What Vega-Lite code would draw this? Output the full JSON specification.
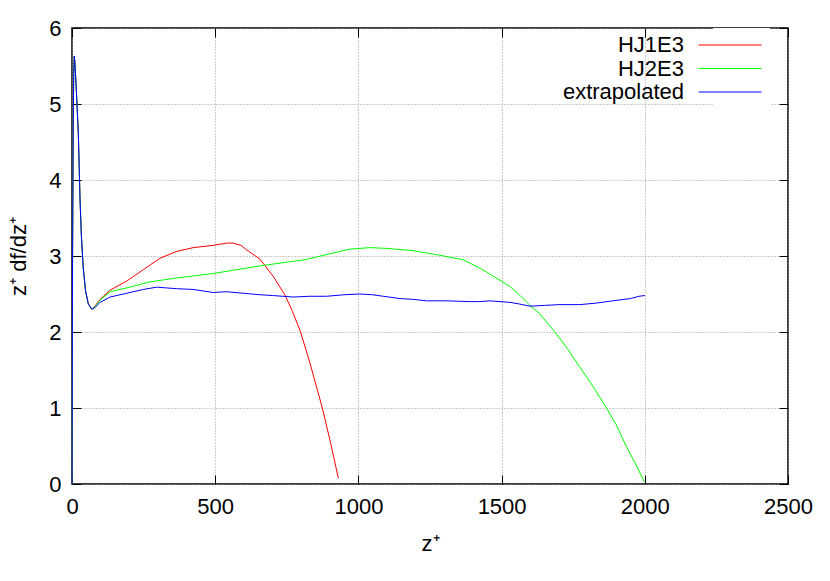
{
  "$schema": "https://vega.github.io/schema/vega-lite/v6.json",
  "width": 716,
  "height": 456,
  "autosize": "none",
  "padding": {"left": 72, "top": 28, "right": 42, "bottom": 97},
  "background": "white",
  "config": {
    "font": "Liberation Sans",
    "view": {"stroke": "black", "strokeWidth": 1.5},
    "axis": {
      "labelFontSize": 22,
      "labelColor": "black",
      "labelFont": "Liberation Sans",
      "titleFont": "Liberation Sans",
      "titleFontSize": 22,
      "titleFontWeight": "normal",
      "titleColor": "black",
      "tickColor": "black",
      "tickWidth": 1,
      "labelFlush": false,
      "labelOverlap": false,
      "format": "d",
      "gridColor": "#999999",
      "gridDash": [1, 2],
      "gridWidth": 1
    }
  },
  "data": {
    "values": [
      {"s": "HJ1E3", "z": 0, "v": 0}, {"s": "HJ1E3", "z": 2, "v": 3.0}, {"s": "HJ1E3", "z": 4, "v": 4.6}, {"s": "HJ1E3", "z": 6, "v": 5.4}, {"s": "HJ1E3", "z": 8, "v": 5.63}, {"s": "HJ1E3", "z": 10, "v": 5.55}, {"s": "HJ1E3", "z": 14, "v": 5.27}, {"s": "HJ1E3", "z": 18, "v": 4.95}, {"s": "HJ1E3", "z": 22, "v": 4.62}, {"s": "HJ1E3", "z": 25, "v": 4.2}, {"s": "HJ1E3", "z": 28, "v": 3.74}, {"s": "HJ1E3", "z": 33, "v": 3.25}, {"s": "HJ1E3", "z": 39, "v": 2.86}, {"s": "HJ1E3", "z": 47, "v": 2.55}, {"s": "HJ1E3", "z": 57, "v": 2.37}, {"s": "HJ1E3", "z": 69, "v": 2.3},
      {"s": "HJ1E3", "z": 80, "v": 2.34}, {"s": "HJ1E3", "z": 98, "v": 2.43}, {"s": "HJ1E3", "z": 133, "v": 2.55}, {"s": "HJ1E3", "z": 191, "v": 2.67}, {"s": "HJ1E3", "z": 249, "v": 2.82}, {"s": "HJ1E3", "z": 307, "v": 2.97}, {"s": "HJ1E3", "z": 365, "v": 3.06}, {"s": "HJ1E3", "z": 423, "v": 3.11}, {"s": "HJ1E3", "z": 493, "v": 3.14}, {"s": "HJ1E3", "z": 540, "v": 3.17}, {"s": "HJ1E3", "z": 563, "v": 3.17}, {"s": "HJ1E3", "z": 590, "v": 3.14}, {"s": "HJ1E3", "z": 610, "v": 3.08}, {"s": "HJ1E3", "z": 656, "v": 2.96}, {"s": "HJ1E3", "z": 703, "v": 2.73}, {"s": "HJ1E3", "z": 743, "v": 2.49}, {"s": "HJ1E3", "z": 770, "v": 2.27}, {"s": "HJ1E3", "z": 798, "v": 2.0}, {"s": "HJ1E3", "z": 831, "v": 1.59}, {"s": "HJ1E3", "z": 874, "v": 1.0}, {"s": "HJ1E3", "z": 903, "v": 0.54}, {"s": "HJ1E3", "z": 930, "v": 0.075},
      {"s": "HJ2E3", "z": 0, "v": 0}, {"s": "HJ2E3", "z": 2, "v": 3.0}, {"s": "HJ2E3", "z": 4, "v": 4.6}, {"s": "HJ2E3", "z": 6, "v": 5.4}, {"s": "HJ2E3", "z": 8, "v": 5.63}, {"s": "HJ2E3", "z": 10, "v": 5.55}, {"s": "HJ2E3", "z": 14, "v": 5.27}, {"s": "HJ2E3", "z": 18, "v": 4.95}, {"s": "HJ2E3", "z": 22, "v": 4.62}, {"s": "HJ2E3", "z": 25, "v": 4.2}, {"s": "HJ2E3", "z": 28, "v": 3.74}, {"s": "HJ2E3", "z": 33, "v": 3.25}, {"s": "HJ2E3", "z": 39, "v": 2.86}, {"s": "HJ2E3", "z": 47, "v": 2.55}, {"s": "HJ2E3", "z": 57, "v": 2.37}, {"s": "HJ2E3", "z": 69, "v": 2.3},
      {"s": "HJ2E3", "z": 80, "v": 2.33}, {"s": "HJ2E3", "z": 98, "v": 2.42}, {"s": "HJ2E3", "z": 133, "v": 2.53}, {"s": "HJ2E3", "z": 191, "v": 2.58}, {"s": "HJ2E3", "z": 272, "v": 2.66}, {"s": "HJ2E3", "z": 365, "v": 2.71}, {"s": "HJ2E3", "z": 493, "v": 2.77}, {"s": "HJ2E3", "z": 560, "v": 2.81}, {"s": "HJ2E3", "z": 656, "v": 2.87}, {"s": "HJ2E3", "z": 772, "v": 2.93}, {"s": "HJ2E3", "z": 813, "v": 2.95}, {"s": "HJ2E3", "z": 901, "v": 3.03}, {"s": "HJ2E3", "z": 970, "v": 3.09}, {"s": "HJ2E3", "z": 1040, "v": 3.11}, {"s": "HJ2E3", "z": 1100, "v": 3.1}, {"s": "HJ2E3", "z": 1191, "v": 3.07}, {"s": "HJ2E3", "z": 1284, "v": 3.01}, {"s": "HJ2E3", "z": 1366, "v": 2.95}, {"s": "HJ2E3", "z": 1424, "v": 2.84}, {"s": "HJ2E3", "z": 1447, "v": 2.79}, {"s": "HJ2E3", "z": 1494, "v": 2.68}, {"s": "HJ2E3", "z": 1529, "v": 2.6}, {"s": "HJ2E3", "z": 1565, "v": 2.48}, {"s": "HJ2E3", "z": 1599, "v": 2.35}, {"s": "HJ2E3", "z": 1633, "v": 2.24}, {"s": "HJ2E3", "z": 1686, "v": 2.0}, {"s": "HJ2E3", "z": 1730, "v": 1.78}, {"s": "HJ2E3", "z": 1773, "v": 1.54}, {"s": "HJ2E3", "z": 1820, "v": 1.28}, {"s": "HJ2E3", "z": 1866, "v": 1.0}, {"s": "HJ2E3", "z": 1900, "v": 0.78}, {"s": "HJ2E3", "z": 1936, "v": 0.49}, {"s": "HJ2E3", "z": 1970, "v": 0.25}, {"s": "HJ2E3", "z": 1998, "v": 0.03},
      {"s": "extrapolated", "z": 0, "v": 0}, {"s": "extrapolated", "z": 2, "v": 3.0}, {"s": "extrapolated", "z": 4, "v": 4.6}, {"s": "extrapolated", "z": 6, "v": 5.4}, {"s": "extrapolated", "z": 8, "v": 5.63}, {"s": "extrapolated", "z": 10, "v": 5.55}, {"s": "extrapolated", "z": 14, "v": 5.27}, {"s": "extrapolated", "z": 18, "v": 4.95}, {"s": "extrapolated", "z": 22, "v": 4.62}, {"s": "extrapolated", "z": 25, "v": 4.2}, {"s": "extrapolated", "z": 28, "v": 3.74}, {"s": "extrapolated", "z": 33, "v": 3.25}, {"s": "extrapolated", "z": 39, "v": 2.86}, {"s": "extrapolated", "z": 47, "v": 2.55}, {"s": "extrapolated", "z": 57, "v": 2.37}, {"s": "extrapolated", "z": 69, "v": 2.3},
      {"s": "extrapolated", "z": 80, "v": 2.32}, {"s": "extrapolated", "z": 98, "v": 2.39}, {"s": "extrapolated", "z": 133, "v": 2.46}, {"s": "extrapolated", "z": 191, "v": 2.51}, {"s": "extrapolated", "z": 249, "v": 2.56}, {"s": "extrapolated", "z": 296, "v": 2.59}, {"s": "extrapolated", "z": 330, "v": 2.58}, {"s": "extrapolated", "z": 365, "v": 2.57}, {"s": "extrapolated", "z": 423, "v": 2.56}, {"s": "extrapolated", "z": 493, "v": 2.52}, {"s": "extrapolated", "z": 540, "v": 2.53}, {"s": "extrapolated", "z": 598, "v": 2.51}, {"s": "extrapolated", "z": 656, "v": 2.49}, {"s": "extrapolated", "z": 700, "v": 2.48}, {"s": "extrapolated", "z": 772, "v": 2.46}, {"s": "extrapolated", "z": 830, "v": 2.47}, {"s": "extrapolated", "z": 889, "v": 2.47}, {"s": "extrapolated", "z": 950, "v": 2.49}, {"s": "extrapolated", "z": 1005, "v": 2.5}, {"s": "extrapolated", "z": 1050, "v": 2.49}, {"s": "extrapolated", "z": 1087, "v": 2.47}, {"s": "extrapolated", "z": 1145, "v": 2.44}, {"s": "extrapolated", "z": 1190, "v": 2.43}, {"s": "extrapolated", "z": 1238, "v": 2.41}, {"s": "extrapolated", "z": 1307, "v": 2.41}, {"s": "extrapolated", "z": 1389, "v": 2.4}, {"s": "extrapolated", "z": 1424, "v": 2.4}, {"s": "extrapolated", "z": 1459, "v": 2.41}, {"s": "extrapolated", "z": 1529, "v": 2.39}, {"s": "extrapolated", "z": 1560, "v": 2.37}, {"s": "extrapolated", "z": 1599, "v": 2.34}, {"s": "extrapolated", "z": 1650, "v": 2.35}, {"s": "extrapolated", "z": 1700, "v": 2.36}, {"s": "extrapolated", "z": 1773, "v": 2.36}, {"s": "extrapolated", "z": 1830, "v": 2.38}, {"s": "extrapolated", "z": 1888, "v": 2.41}, {"s": "extrapolated", "z": 1950, "v": 2.44}, {"s": "extrapolated", "z": 1980, "v": 2.47}, {"s": "extrapolated", "z": 2000, "v": 2.48}
    ]
  },
  "layer": [
    {
      "mark": {"type": "line", "strokeWidth": 1, "interpolate": "linear"},
      "encoding": {
        "x": {
          "field": "z", "type": "quantitative",
          "scale": {"domain": [0, 2500], "nice": false, "zero": false},
          "axis": {"orient": "bottom", "title": "z⁺", "values": [0, 500, 1000, 1500, 2000, 2500], "grid": true, "domain": false, "tickSize": -9, "labelPadding": 21, "titlePadding": 16}
        },
        "y": {
          "field": "v", "type": "quantitative",
          "scale": {"domain": [0, 6], "nice": false, "zero": false},
          "axis": {"orient": "left", "title": "z⁺ df/dz⁺", "values": [0, 1, 2, 3, 4, 5, 6], "grid": true, "domain": false, "tickSize": -9, "labelPadding": 20, "titlePadding": 18}
        },
        "color": {
          "field": "s", "type": "nominal",
          "scale": {"domain": ["HJ1E3", "HJ2E3", "extrapolated"], "range": ["#ff0000", "#00ff00", "#0000ff"]},
          "legend": {
            "orient": "none", "legendX": 641, "legendY": 0, "title": null,
            "symbolType": "M-3.15,0H3.15", "symbolSize": 400, "symbolStrokeWidth": 1,
            "labelAlign": "right", "labelOffset": -57, "labelFontSize": 22, "labelFont": "Liberation Sans", "labelColor": "black",
            "rowPadding": 1.5, "padding": 6, "fillColor": "white"
          }
        }
      }
    },
    {
      "mark": {"type": "line", "strokeOpacity": 0},
      "encoding": {
        "x": {
          "field": "z", "type": "quantitative",
          "axis": {"orient": "top", "title": null, "values": [0, 500, 1000, 1500, 2000, 2500], "labels": false, "grid": false, "domain": false, "tickSize": -9}
        },
        "y": {
          "field": "v", "type": "quantitative",
          "axis": {"orient": "right", "title": null, "values": [0, 1, 2, 3, 4, 5, 6], "labels": false, "grid": false, "domain": false, "tickSize": -9}
        },
        "detail": {"field": "s"}
      }
    }
  ],
  "resolve": {"axis": {"x": "independent", "y": "independent"}}
}
